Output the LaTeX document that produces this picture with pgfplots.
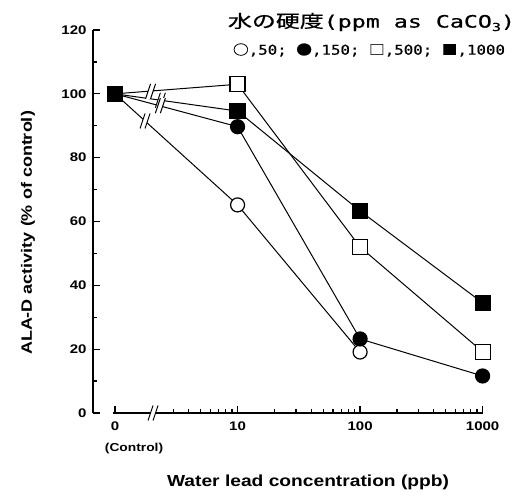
\documentclass[border=0pt]{standalone}
\usepackage{pgfplots}
\pgfplotsset{compat=1.18}
\usepackage{graphicx}
\usepackage{fontspec}
\setmainfont{Liberation Sans}
\newfontfamily\lab{Liberation Sans}[FakeStretch=1.2]
\newfontfamily\cjk{Noto Sans CJK JP}[FakeBold=0.6]
\newfontfamily\mono{DejaVu Sans Mono}[FakeBold=0.6]

\newcommand{\brk}[2]{%
  \fill[white] (axis cs:#1,#2) ++(-5pt,-7.5pt) -- ++(5pt,15pt) -- ++(5pt,0pt) -- ++(-5pt,-15pt) -- cycle;
  \draw[black, line width=1pt] (axis cs:#1,#2) ++(-5pt,-7.5pt) -- ++(5pt,15pt);
  \draw[black, line width=1pt] (axis cs:#1,#2) ++(0pt,-7.5pt) -- ++(5pt,15pt);
}

\begin{document}
\begin{tikzpicture}
\path[use as bounding box] (-93pt,-86pt) rectangle (430pt,413pt);
\begin{axis}[
  at={(0pt,0pt)}, anchor=south west,
  scale only axis, width=389.6pt, height=383pt,
  xmin=-0.18, xmax=3, ymin=0, ymax=120,
  clip=false,
  axis x line=bottom, axis y line=left,
  axis line style={-, line width=1.2pt},
  x axis line style={draw=none},
  xtick={0,1,2,3}, xticklabels={0,10,100,1000},
  minor xtick={0.4771,0.6021,0.6990,0.7782,0.8451,0.9031,0.9542,
               1.3010,1.4771,1.6021,1.6990,1.7782,1.8451,1.9031,1.9542,
               2.3010,2.4771,2.6021,2.6990,2.7782,2.8451,2.9031,2.9542},
  ytick={0,20,...,120}, minor ytick={10,30,...,110},
  tick align=inside,
  major tick length=7pt, minor tick length=4pt,
  every tick/.style={black, line width=1.2pt},
  /pgf/number format/assume math mode=true,
  ticklabel style={font=\lab\bfseries\fontsize{12.5}{13}\selectfont},
  yticklabel style={xshift=-3pt},
  xticklabel style={yshift=-5pt},
  ylabel={ALA-D activity (\% of control)},
  ylabel style={at={(axis description cs:-0.167,0.47)}, anchor=center, font=\lab\bfseries\fontsize{15}{15}\selectfont},
  xlabel={Water lead concentration (ppb)},
  xlabel style={at={(axis description cs:0.552,-0.18)}, anchor=center, font=\lab\bfseries\fontsize{16}{16}\selectfont},
]
% open circle, 50
\addplot[black, line width=1pt, mark=*, mark size=7pt, mark options={fill=white, line width=1.2pt}]
  coordinates {(0,100) (1,65.2) (2,19.1)};
% filled circle, 150
\addplot[black, line width=1pt, mark=*, mark size=7pt, mark options={fill=black, line width=1.2pt}]
  coordinates {(0,100) (1,89.7) (2,23.2) (3,11.6)};
% open square, 500
\addplot[black, line width=1pt, mark=square*, mark size=7.5pt, mark options={fill=white, line width=1.2pt}]
  coordinates {(0,100) (1,103) (2,52) (3,19.2)};
% filled square, 1000
\addplot[black, line width=1pt, mark=square*, mark size=7.5pt, mark options={fill=black, line width=1.2pt}]
  coordinates {(0,100) (1,94.6) (2,63.3) (3,34.5)};

\brk{0.245}{91.5}
\brk{0.29}{100.8}
\brk{0.37}{98.0}
\brk{0.37}{96.3}

\draw[black, line width=1.2pt] (axis cs:-0.02,0) -- (axis cs:3,0);
\brk{0.31}{0}

\node[font=\lab\bfseries\fontsize{11.5}{12}\selectfont] at (axis cs:0,0) [xshift=19pt, yshift=-36pt] {(Control)};
\end{axis}
\node at (278.5pt,391pt) {\resizebox{287pt}{\height}{{\cjk\fontsize{17.5}{18}\selectfont 水の硬度}{\mono\fontsize{17}{18}\selectfont(ppm as CaCO\raisebox{-0.2em}{\fontsize{11}{11}\selectfont 3})}}};
\node at (276pt,363pt) {\resizebox{272pt}{\height}{\mono\fontsize{13.5}{14}\selectfont{\cjk ○},50; {\cjk ●},150; {\cjk □},500; {\cjk ■},1000}};
\end{tikzpicture}
\end{document}
